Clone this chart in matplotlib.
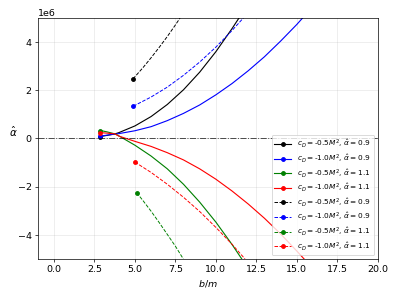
import matplotlib
matplotlib.use("Agg")
import matplotlib.pyplot as plt
import numpy as np

# values (y in units of 1e6)
# solid curves
b_k = [2.85, 3.3, 3.77, 4.0, 5.0, 6.0, 7.0, 8.0, 9.0, 10.0, 11.0, 11.43]
a_k = [0.08, 0.13, 0.19, 0.24, 0.52, 0.91, 1.41, 2.02, 2.75, 3.60, 4.56, 5.0]

b_b = [2.87, 3.3, 3.77, 4.0, 5.0, 6.0, 7.0, 8.0, 9.0, 10.0, 11.0, 12.0, 13.0, 14.0, 15.0, 15.36]
a_b = [0.10, 0.14, 0.18, 0.20, 0.32, 0.49, 0.74, 1.04, 1.39, 1.81, 2.28, 2.81, 3.39, 4.04, 4.73, 5.0]

b_g = [2.87, 3.3, 3.77, 4.0, 5.0, 6.0, 7.0, 8.0, 9.0, 10.0, 11.0, 11.6]
a_g = [0.33, 0.27, 0.19, 0.11, -0.28, -0.73, -1.26, -1.90, -2.64, -3.47, -4.40, -5.0]

b_r = [2.87, 3.3, 3.77, 4.0, 5.0, 6.0, 7.0, 8.0, 9.0, 10.0, 11.0, 12.0, 13.0, 14.0, 15.0, 15.45]
a_r = [0.24, 0.22, 0.19, 0.10, -0.12, -0.33, -0.59, -0.89, -1.26, -1.69, -2.18, -2.72, -3.31, -3.96, -4.67, -5.0]

# dashed curves
bd_k = [4.88, 5.5, 6.0, 6.5, 7.0, 7.5, 7.79]
ad_k = [2.47, 2.94, 3.35, 3.78, 4.23, 4.71, 5.0]

bd_b = [4.90, 6.0, 7.0, 8.0, 9.0, 10.0, 11.0, 11.7]
ad_b = [1.34, 1.72, 2.13, 2.62, 3.17, 3.79, 4.48, 5.0]

bd_g = [5.11, 5.5, 6.0, 6.5, 7.0, 7.5, 7.99]
ad_g = [-2.25, -2.58, -3.02, -3.49, -3.98, -4.47, -5.0]

bd_r = [5.0, 6.0, 7.0, 8.0, 9.0, 10.0, 11.0, 11.8]
ad_r = [-0.98, -1.41, -1.90, -2.44, -3.03, -3.69, -4.39, -5.0]

labels = [r'$c_D=$-0.5$M^2$, $\hat{\alpha}=0.9$',
          r'$c_D=$-1.0$M^2$, $\hat{\alpha}=0.9$',
          r'$c_D=$-0.5$M^2$, $\hat{\alpha}=1.1$',
          r'$c_D=$-1.0$M^2$, $\hat{\alpha}=1.1$']
colors = ['k', 'b', 'g', 'r']

solid = [(b_k, a_k), (b_b, a_b), (b_g, a_g), (b_r, a_r)]
dashed = [(bd_k, ad_k), (bd_b, ad_b), (bd_g, ad_g), (bd_r, ad_r)]

plt.rcParams['font.size'] = 11

fig = plt.figure(figsize=(6.4, 4.8), dpi=62.35)
ax = fig.add_subplot(111)
fig.subplots_adjust(left=0.0947, right=0.9466, bottom=0.1338, top=0.939)

for (b, a), c, lab in zip(solid, colors, labels):
    ax.plot(b, np.array(a) * 1e6, '-', color=c, marker='o', ms=4.5,
            markevery=[0], lw=1.3, label=lab)
for (b, a), c, lab in zip(dashed, colors, labels):
    ax.plot(b, np.array(a) * 1e6, '--', color=c, marker='o', ms=4.5,
            markevery=[0], lw=1.1, label=lab)

ax.axhline(0, color='k', ls='-.', lw=1.1, alpha=0.7)

ax.set_xlim(-1, 20)
ax.set_ylim(-5e6, 5e6)
ax.grid(alpha=0.3)
ax.set_xlabel(r'$b/m$')
ax.set_ylabel(r'$\hat{\alpha}$', rotation=0, fontsize=12)
ax.yaxis.set_label_coords(-0.073, 0.5)
ax.legend(loc='lower right', fontsize=8.5, labelspacing=0.3, handlelength=2.3)

fig.savefig('out.png', dpi=62.35)
